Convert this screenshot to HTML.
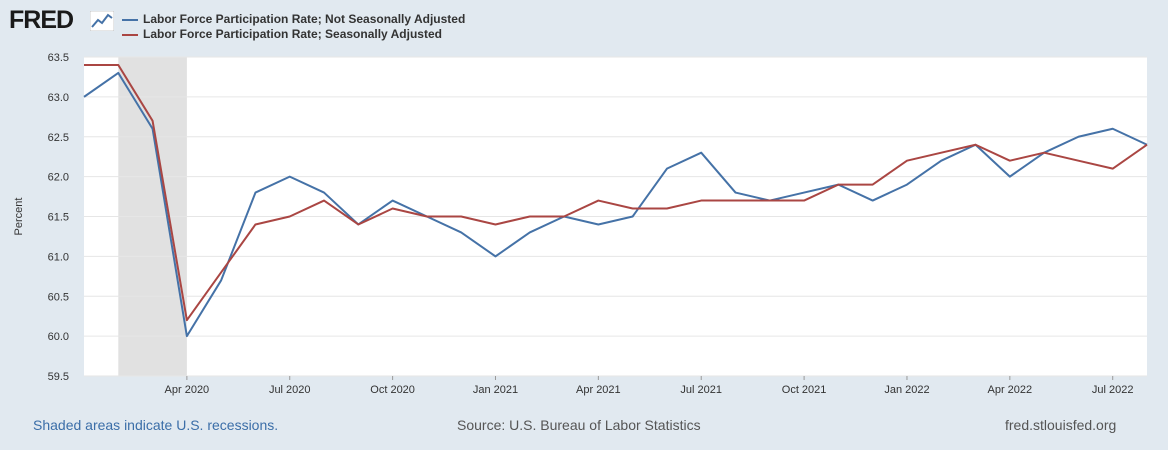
<!DOCTYPE html>
<html><head><meta charset="utf-8"><style>
body{margin:0;width:1168px;height:450px;background:#e1e9f0;font-family:"Liberation Sans",Arial,sans-serif;overflow:hidden;position:relative}
.t{position:absolute;white-space:nowrap}
</style></head><body>
<div class="t" style="left:9px;top:6px;font-size:25px;font-weight:bold;color:#1a1a1a;letter-spacing:-1px">FRED</div>
<svg class="t" style="left:90px;top:11px" width="24" height="20"><rect x="0" y="0" width="24" height="20" fill="#fff" stroke="#999" stroke-width="0.5"/><polyline points="2,16 8,9 12,12 18,4 22,7" fill="none" stroke="#4572a7" stroke-width="2"/></svg>
<div>
<div class="t" style="left:122px;top:12px;font-size:12px;font-weight:bold;color:#333"><span style="display:inline-block;width:16px;height:2px;background:#4572a7;vertical-align:middle;margin-right:5px"></span>Labor Force Participation Rate; Not Seasonally Adjusted</div>
<div class="t" style="left:122px;top:27px;font-size:12px;font-weight:bold;color:#333"><span style="display:inline-block;width:16px;height:2px;background:#aa4643;vertical-align:middle;margin-right:5px"></span>Labor Force Participation Rate; Seasonally Adjusted</div>
</div>
<svg id="chart" class="t" style="left:0;top:0" width="1168" height="450"></svg>
<div class="t" style="left:33px;top:417px;font-size:14px;color:#3b6ea8">Shaded areas indicate U.S. recessions.</div>
<div class="t" style="left:457px;top:417px;font-size:14px;color:#555">Source: U.S. Bureau of Labor Statistics</div>
<div class="t" style="left:1005px;top:417px;font-size:14px;color:#555">fred.stlouisfed.org</div>
<script>
const nsaValues=[63.0,63.3,62.6,60.0,60.7,61.8,62.0,61.8,61.4,61.7,61.5,61.3,61.0,61.3,61.5,61.4,61.5,62.1,62.3,61.8,61.7,61.8,61.9,61.7,61.9,62.2,62.4,62.0,62.3,62.5,62.6,62.4];
const saValues=[63.4,63.4,62.7,60.2,60.8,61.4,61.5,61.7,61.4,61.6,61.5,61.5,61.4,61.5,61.5,61.7,61.6,61.6,61.7,61.7,61.7,61.7,61.9,61.9,62.2,62.3,62.4,62.2,62.3,62.2,62.1,62.4];
const yTicks=[59.5,60.0,60.5,61.0,61.5,62.0,62.5,63.0,63.5];
const xTickLabels=["Apr 2020","Jul 2020","Oct 2020","Jan 2021","Apr 2021","Jul 2021","Oct 2021","Jan 2022","Apr 2022","Jul 2022"];
const xTickIndex=[3,6,9,12,15,18,21,24,27,30];
const recession=[1,3];
const L=84,R=1147,T=57,B=376,N=nsaValues.length;
const x=i=>L+(R-L)*i/(N-1);
const y=v=>B-(v-59.5)/4*(B-T);
const svg=document.getElementById('chart');const NS='http://www.w3.org/2000/svg';
function mk(tag,a){const e=document.createElementNS(NS,tag);for(const k in a)e.setAttribute(k,a[k]);svg.appendChild(e);return e;}
const bg=mk('rect',{x:L,y:T,width:R-L,height:B-T,fill:'#fff'});


const rec=mk('rect',{x:x(recession[0]),y:T,width:x(recession[1])-x(recession[0]),height:B-T,fill:'#e1e1e1'});


yTicks.forEach(v=>{
 const g=mk('line',{x1:L,x2:R,y1:y(v),y2:y(v),stroke:'#e6e6e6','stroke-width':1});
 
 
 const t=mk('text',{x:L-15,y:y(v)+4,'text-anchor':'end','font-size':11,fill:'#333'});t.textContent=v.toFixed(1);
 
 
});
xTickIndex.forEach((i,k)=>{
 const t=mk('text',{x:x(i),y:B+17,'text-anchor':'middle','font-size':11,fill:'#333'});t.textContent=xTickLabels[k];
 
 
 const tk=mk('line',{x1:x(i),x2:x(i),y1:B,y2:B+4,stroke:'#999'});
 
 
});
const yt=mk('text',{x:22,y:(T+B)/2,'text-anchor':'middle','font-size':11,fill:'#333',transform:`rotate(-90 22 ${(T+B)/2})`});yt.textContent='Percent';


const s1=mk('polyline',{points:nsaValues.map((v,i)=>x(i)+','+y(v)).join(' '),fill:'none',stroke:'#4572a7','stroke-width':2,'stroke-linejoin':'round'});


const s2=mk('polyline',{points:saValues.map((v,i)=>x(i)+','+y(v)).join(' '),fill:'none',stroke:'#aa4643','stroke-width':2,'stroke-linejoin':'round'});


</script>
</body></html>
